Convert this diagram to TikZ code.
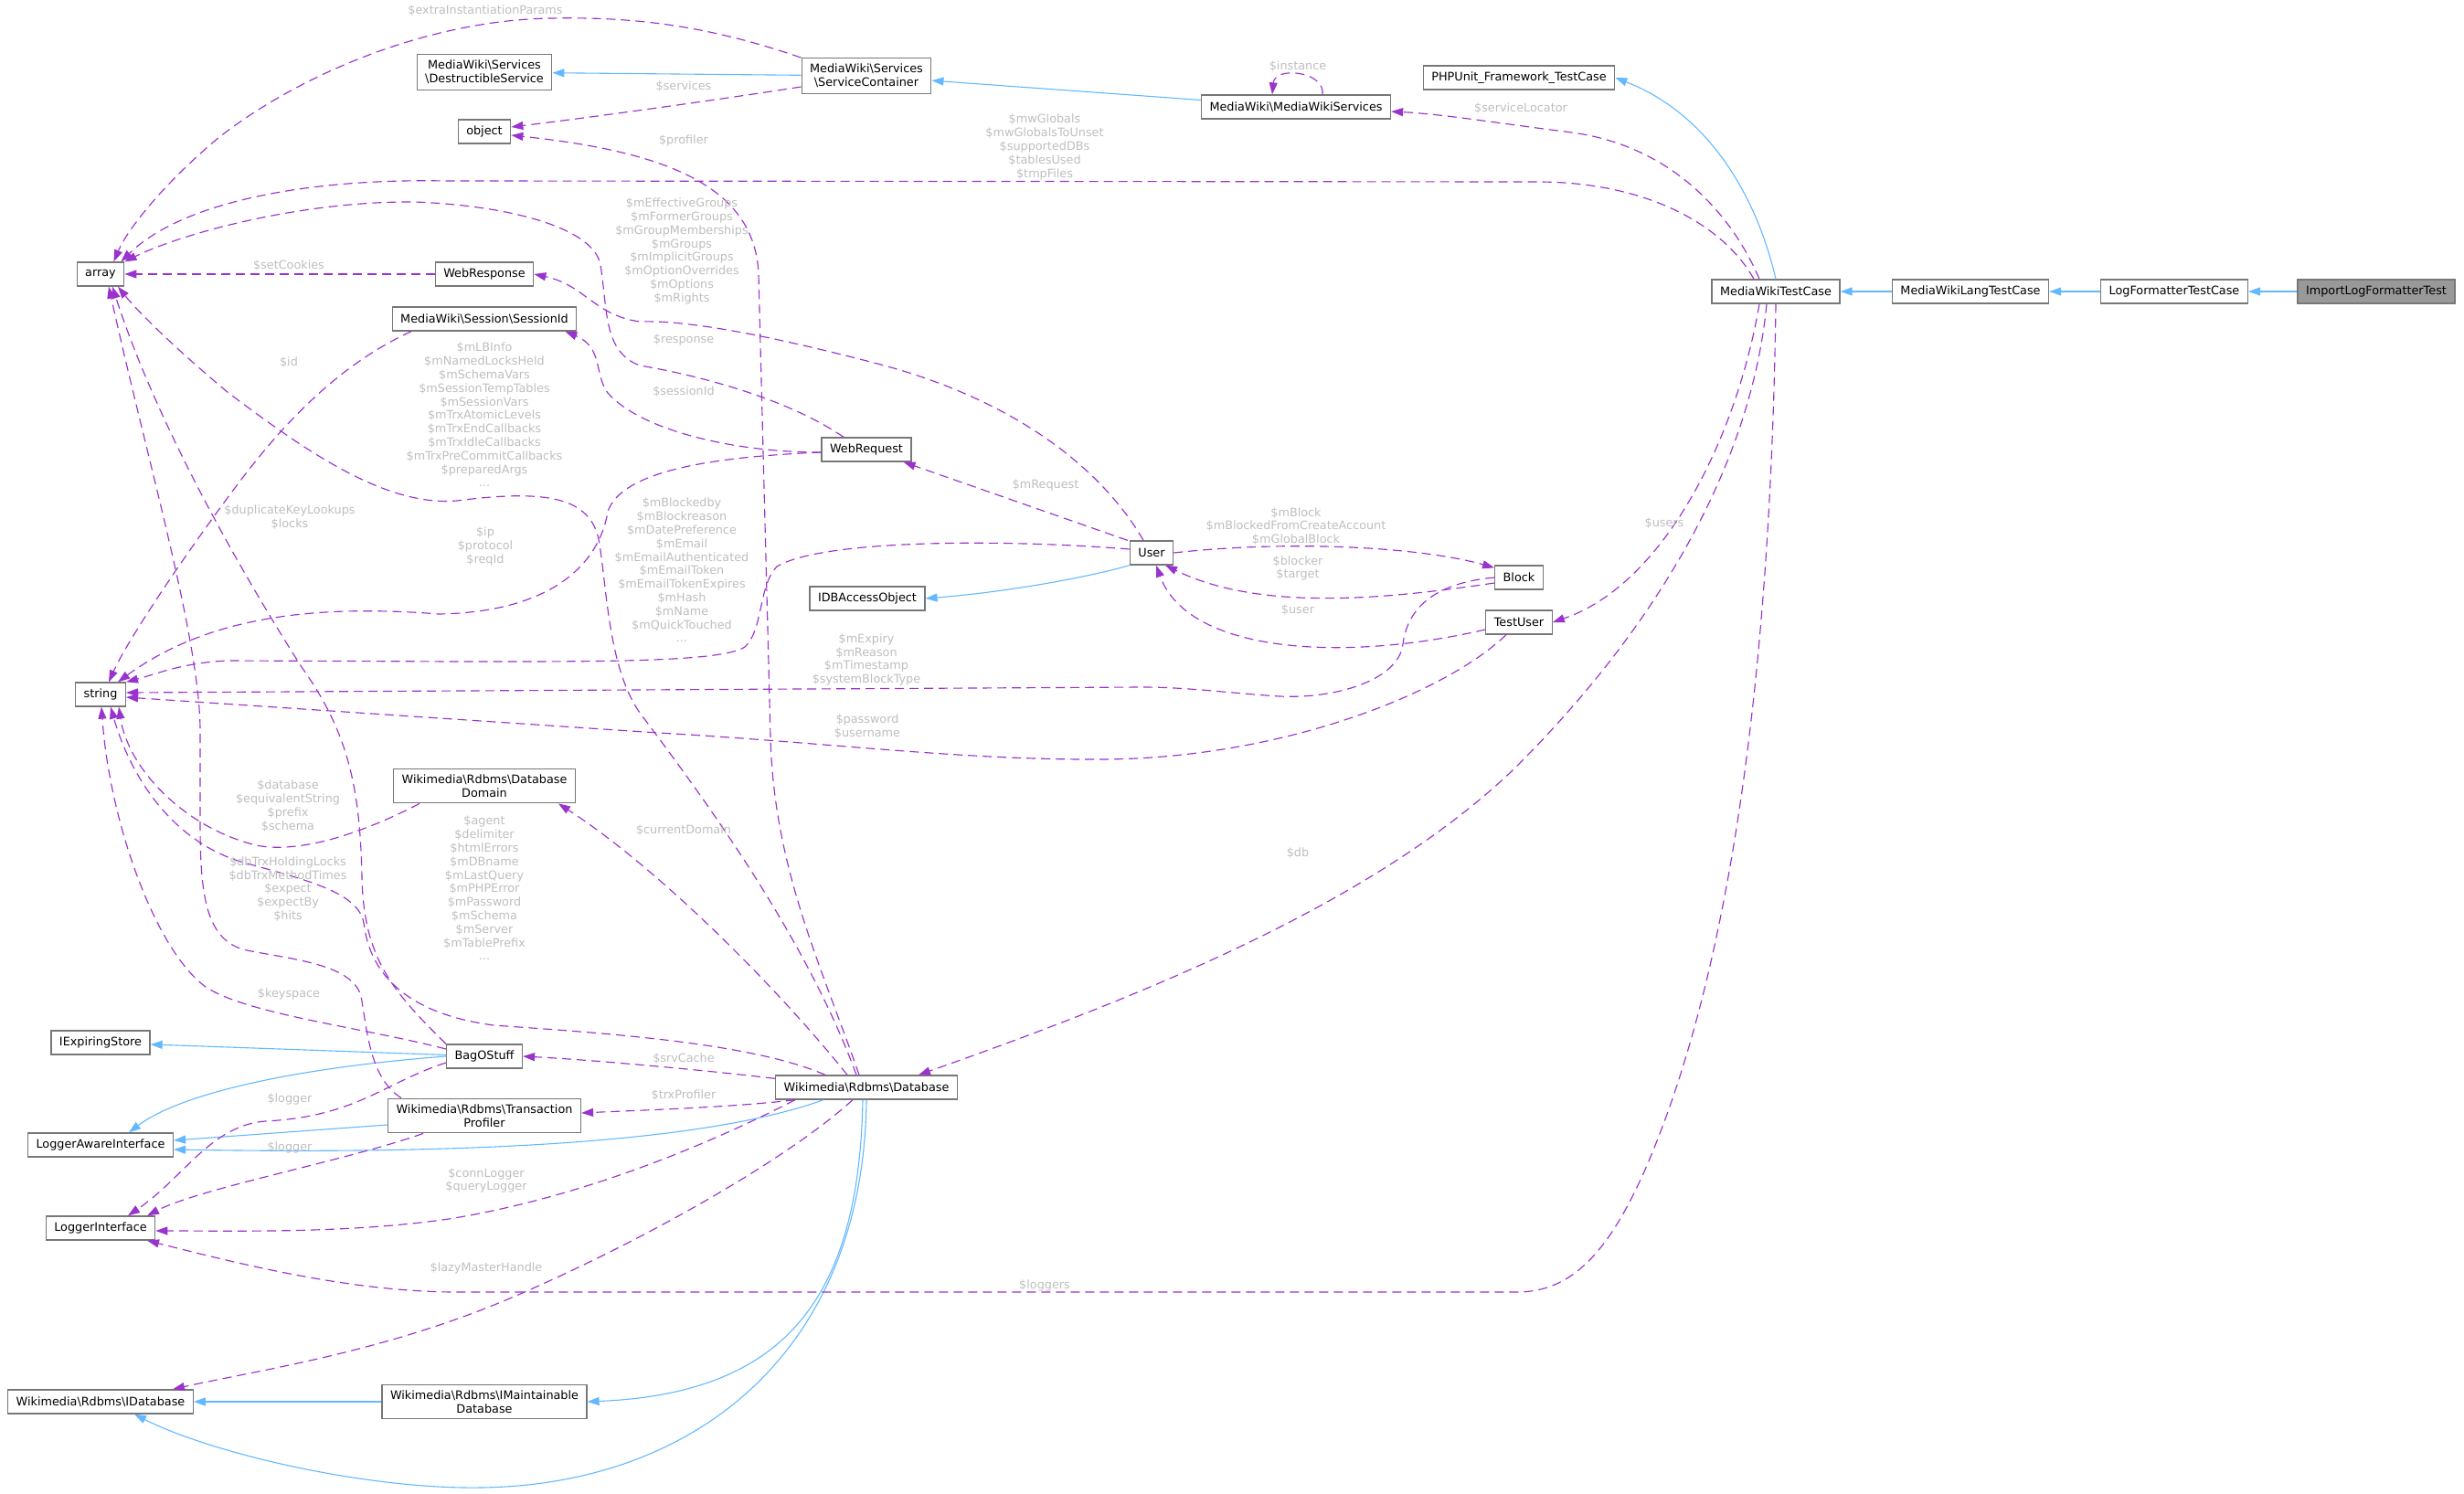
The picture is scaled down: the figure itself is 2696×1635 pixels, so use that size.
\documentclass[tikz,border=0pt]{standalone}
\usepackage{fontspec}
\setmainfont{DejaVu Sans}
\usetikzlibrary{arrows.meta}
\definecolor{clsborder}{HTML}{777777}
\definecolor{focusfill}{HTML}{999999}
\definecolor{inhblue}{HTML}{63B8FF}
\definecolor{usepurple}{HTML}{9A32CD}
\definecolor{lblgrey}{HTML}{BEBEBE}
\newcommand{\bsl}{\textbackslash}
\newcommand{\clsfont}{\fontsize{12.8pt}{14.6pt}\selectfont}
\newcommand{\lblfont}{\fontsize{12.8pt}{14.8pt}\selectfont}
\tikzset{
  cls/.style={draw=clsborder, fill=white, line width=1.3pt, font=\clsfont, align=center, inner xsep=9pt, inner ysep=6.5pt, minimum height=26pt},
  focus/.style={cls, fill=focusfill},
  inherit/.style={-{Triangle[length=13pt,width=9pt]}, draw=inhblue, line width=1.1pt},
  uses/.style={-{Triangle[length=13pt,width=9pt]}, draw=usepurple, line width=1.15pt, dash pattern=on 10pt off 6pt},
  lbl/.style={font=\lblfont, text=lblgrey, align=center, inner sep=0pt},
}

\begin{document}
\begin{tikzpicture}[x=1pt, y=-1pt]
  \useasboundingbox (0,0) rectangle (2696,1635);

  % Classes
  \node[focus] (ilft) at (2600,319) {ImportLogFormatterTest};
  \node[cls] (lftc) at (2379,319) {LogFormatterTestCase};
  \node[cls] (mwltc) at (2156,319) {MediaWikiLangTestCase};
  \node[cls] (mwtc) at (1943,319) {MediaWikiTestCase};
  \node[cls] (phpunit) at (1662,85) {PHPUnit\_Framework\_TestCase};
  \node[cls] (mws) at (1418,117) {MediaWiki\bsl MediaWikiServices};
  \node[cls] (sc) at (948,83) {MediaWiki\bsl Services\\\bsl ServiceContainer};
  \node[cls] (ds) at (530,79) {MediaWiki\bsl Services\\\bsl DestructibleService};
  \node[cls] (object) at (530,144) {object};
  \node[cls] (array) at (110,300) {array};
  \node[cls] (webresp) at (530,300) {WebResponse};
  \node[cls] (sessid) at (530,349) {MediaWiki\bsl Session\bsl SessionId};
  \node[cls] (webreq) at (948,492) {WebRequest};
  \node[cls] (user) at (1260,605) {User};
  \node[cls] (idbao) at (949,655) {IDBAccessObject};
  \node[cls] (block) at (1662,632) {Block};
  \node[cls] (testuser) at (1662,681) {TestUser};
  \node[cls] (string) at (110,760) {string};
  \node[cls] (dbdomain) at (530,860) {Wikimedia\bsl Rdbms\bsl Database\\Domain};
  \node[cls] (iexp) at (110,1141) {IExpiringStore};
  \node[cls] (bag) at (530,1156) {BagOStuff};
  \node[cls] (trxprof) at (530,1221) {Wikimedia\bsl Rdbms\bsl Transaction\\Profiler};
  \node[cls] (lai) at (110,1253) {LoggerAwareInterface};
  \node[cls] (database) at (948,1190) {Wikimedia\bsl Rdbms\bsl Database};
  \node[cls] (li) at (110,1344) {LoggerInterface};
  \node[cls] (idb) at (110,1534) {Wikimedia\bsl Rdbms\bsl IDatabase};
  \node[cls] (imaint) at (530,1534) {Wikimedia\bsl Rdbms\bsl IMaintainable\\Database};

  % Inheritance
  \draw[inherit] (ilft) -- (lftc);
  \draw[inherit] (lftc) -- (mwltc);
  \draw[inherit] (mwltc) -- (mwtc);
  \draw[inherit] (mwtc.north) .. controls (1922,215) and (1870,125) .. (phpunit.east);
  \draw[inherit] (sc) -- (ds);
  \draw[inherit] (mws) -- (sc);
  \draw[inherit] (user.south west) .. controls (1190,632) and (1100,648) .. (idbao.east);
  \draw[inherit] (bag) -- (iexp);
  \draw[inherit] (bag.west) .. controls (330,1168) and (200,1195) .. ([xshift=31pt]lai.north);
  \draw[inherit] ([yshift=-10pt]trxprof.west) -- ([yshift=5pt]lai.east);
  \draw[inherit] ([xshift=-47pt]database.south) .. controls (800,1240) and (600,1265) .. ([yshift=-5pt]lai.east);
  \draw[inherit] ([xshift=-4pt]database.south) .. controls (940,1420) and (860,1525) .. (imaint.east);
  \draw[inherit] (database.south) .. controls (945,1480) and (760,1625) .. (526,1628)
    .. controls (400,1630) and (230,1590) .. ([xshift=37pt]idb.south);
  \draw[inherit] (imaint) -- (idb);

  % Members
  \draw[uses] (sc.north west) .. controls (780,30) and (700,18) .. (603,20)
    .. controls (470,22) and (330,80) .. (240,150)
    .. controls (180,200) and (140,250) .. ([xshift=-12pt]array.north east);
  \draw[uses] ([yshift=-12pt]sc.west) .. controls (780,110) and (650,128) .. ([yshift=5pt]object.east);
  \draw[uses] ([xshift=29pt]mws.north) .. controls (1450,78) and (1395,72) .. ([xshift=-26pt]mws.north);
  \draw[uses] ([xshift=-18pt]mwtc.north) .. controls (1895,235) and (1830,160) .. (1720,145)
    .. controls (1640,135) and (1580,125) .. ([yshift=-5pt]mws.east);
  \draw[uses] ([xshift=-24pt]mwtc.north) .. controls (1885,245) and (1800,199) .. (1682,199) -- (488,198)
    .. controls (340,195) and (200,220) .. ([xshift=-4pt]array.north east);
  \draw[uses] ([xshift=-8pt]database.north) .. controls (900,1060) and (846,950) .. (843,805) -- (830,300)
    .. controls (826,200) and (720,165) .. ([yshift=-4pt]object.east);
  \draw[uses] ([xshift=-25pt]webreq.north) .. controls (860,435) and (760,410) .. (700,400)
    .. controls (660,385) and (665,340) .. (657,290)
    .. controls (650,250) and (560,225) .. (453,221)
    .. controls (330,220) and (200,255) .. (array.north east);
  \draw[uses] ([xshift=-9pt]user.north) .. controls (1210,520) and (1120,440) .. (960,398)
    .. controls (860,372) and (760,350) .. (700,352)
    .. controls (650,345) and (640,312) .. (webresp.east);
  \draw[uses] (webresp) -- (array);
  \draw[uses] ([yshift=-3pt]webreq.west) .. controls (800,495) and (700,470) .. (665,430)
    .. controls (650,410) and (660,380) .. ([xshift=-13pt]sessid.south east);
  \draw[uses] ([yshift=-3pt]webreq.west) .. controls (780,500) and (680,515) .. (665,560)
    .. controls (655,620) and (600,670) .. (480,672)
    .. controls (330,660) and (220,680) .. ([xshift=-9pt]string.north east);
  \draw[uses] ([xshift=-80pt]sessid.south) .. controls (380,395) and (320,450) .. (260,530)
    .. controls (200,610) and (140,700) .. ([xshift=9pt]string.north);
  \draw[uses] ([xshift=-11pt]database.north) .. controls (880,1020) and (760,860) .. (700,780)
    .. controls (665,730) and (664,640) .. (655,590)
    .. controls (645,545) and (600,535) .. (500,548)
    .. controls (420,555) and (330,490) .. (250,430)
    .. controls (190,380) and (150,340) .. ([xshift=19pt]array.south);
  \draw[uses] ([yshift=4pt]user.west) .. controls (1100,590) and (900,590) .. (850,620)
    .. controls (830,640) and (835,690) .. (815,708)
    .. controls (790,725) and (650,724) .. (500,724) -- (250,723)
    .. controls (200,725) and (170,738) .. (string.north east);
  \draw[uses] (block.west) .. controls (1570,638) and (1540,665) .. (1535,705)
    .. controls (1530,745) and (1460,765) .. (1400,762)
    .. controls (1350,759) and (1300,752) .. (1250,752) -- ([yshift=2pt]string.east);
  \draw[uses] ([yshift=-6pt]block.west) .. controls (1520,655) and (1380,670) .. ([xshift=15pt]user.south);
  \draw[uses] ([yshift=-8pt]testuser.west) .. controls (1470,725) and (1300,715) .. ([xshift=5pt]user.south);
  \draw[uses] (user.east) .. controls (1420,590) and (1560,600) .. ([yshift=-3pt]block.north west);
  \draw[uses] ([xshift=-2pt]user.north west) -- ([xshift=-9pt]webreq.south east);
  \draw[uses] ([xshift=-14pt]testuser.south) .. controls (1580,760) and (1400,830) .. (1206,831)
    .. controls (1050,832) and (900,812) .. (720,802) -- ([yshift=-3pt]string.east);
  \draw[uses] ([xshift=-18pt]mwtc.south) .. controls (1900,480) and (1820,640) .. (testuser.east);
  \draw[uses] ([xshift=-10pt]mwtc.south) .. controls (1915,520) and (1800,700) .. (1654,844)
    .. controls (1500,990) and (1250,1090) .. ([xshift=57pt]database.north);
  \draw[uses] (mwtc.south) .. controls (1938,700) and (1900,1050) .. (1800,1280)
    .. controls (1760,1370) and (1720,1414) .. (1660,1414) -- (500,1414)
    .. controls (380,1414) and (250,1380) .. ([xshift=51pt]li.south);
  \draw[uses] ([xshift=-21pt]database.north) .. controls (850,1080) and (720,950) .. ([xshift=81pt]dbdomain.south);
  \draw[uses] ([xshift=-71pt]dbdomain.south) .. controls (400,910) and (330,935) .. (280,925)
    .. controls (200,905) and (140,840) .. ([xshift=20pt]string.south);
  \draw[uses] ([xshift=-45pt]database.north) .. controls (820,1140) and (650,1130) .. (540,1122)
    .. controls (450,1110) and (405,1070) .. (398,1010)
    .. controls (392,975) and (330,962) .. (260,942)
    .. controls (180,915) and (140,840) .. ([xshift=11pt]string.south);
  \draw[uses] ([yshift=8pt]bag.west) .. controls (400,1125) and (270,1110) .. (225,1080)
    .. controls (170,1040) and (120,900) .. ([xshift=1pt]string.south);
  \draw[uses] (bag.north west) .. controls (430,1085) and (398,1050) .. (396,960)
    .. controls (394,860) and (380,800) .. (330,730)
    .. controls (260,620) and (170,460) .. ([xshift=13pt]array.south);
  \draw[uses] ([xshift=-91pt]trxprof.north) .. controls (405,1180) and (402,1130) .. (395,1090)
    .. controls (385,1055) and (320,1050) .. (270,1040)
    .. controls (225,1030) and (219,980) .. (219,900) -- (219,800)
    .. controls (219,700) and (160,500) .. ([xshift=9pt]array.south);
  \draw[uses] ([yshift=-4pt]database.north west) .. controls (780,1172) and (650,1160) .. (bag.east);
  \draw[uses] ([xshift=-78pt]database.south) .. controls (800,1212) and (700,1215) .. ([yshift=3pt]trxprof.east);
  \draw[uses] ([yshift=-7pt]bag.west) .. controls (420,1185) and (390,1222) .. (290,1227)
    .. controls (230,1232) and (200,1290) .. ([xshift=30pt]li.north);
  \draw[uses] ([xshift=-67pt]trxprof.south) .. controls (380,1270) and (220,1300) .. ([xshift=51pt]li.north);
  \draw[uses] ([xshift=-78pt]database.south) .. controls (780,1250) and (640,1310) .. (491,1334)
    .. controls (380,1350) and (260,1347) .. ([yshift=-3pt]li.east);
  \draw[uses] ([xshift=-15pt]database.south) .. controls (860,1270) and (700,1360) .. (560,1420)
    .. controls (420,1480) and (280,1500) .. ([xshift=79pt]idb.north);

  % Member names
  \node[lbl] (l-extra) at (531,12) {\$extraInstantiationParams};
  \node[lbl] (l-services) at (748,95) {\$services};
  \node[lbl] (l-profiler) at (748,154) {\$profiler};
  \node[lbl] (l-instance) at (1420,73) {\$instance};
  \node[lbl] (l-servloc) at (1664,119) {\$serviceLocator};
  \node[lbl] (l-globals) at (1143,161) {\$mwGlobals\\\$mwGlobalsToUnset\\\$supportedDBs\\\$tablesUsed\\\$tmpFiles};
  \node[lbl] (l-groups) at (746,275) {\$mEffectiveGroups\\\$mFormerGroups\\\$mGroupMemberships\\\$mGroups\\\$mImplicitGroups\\\$mOptionOverrides\\\$mOptions\\\$mRights};
  \node[lbl] (l-cookies) at (316,291) {\$setCookies};
  \node[lbl] (l-response) at (748,372) {\$response};
  \node[lbl] (l-sessid) at (748,429) {\$sessionId};
  \node[lbl] (l-id) at (316,397) {\$id};
  \node[lbl] (l-lbinfo) at (530,454) {\$mLBInfo\\\$mNamedLocksHeld\\\$mSchemaVars\\\$mSessionTempTables\\\$mSessionVars\\\$mTrxAtomicLevels\\\$mTrxEndCallbacks\\\$mTrxIdleCallbacks\\\$mTrxPreCommitCallbacks\\\$preparedArgs\\...};
  \node[lbl] (l-request) at (1144,531) {\$mRequest};
  \node[lbl] (l-dupkey) at (317,566) {\$duplicateKeyLookups\\\$locks};
  \node[lbl] (l-ip) at (531,598) {\$ip\\\$protocol\\\$reqId};
  \node[lbl] (l-blocked) at (746,624) {\$mBlockedby\\\$mBlockreason\\\$mDatePreference\\\$mEmail\\\$mEmailAuthenticated\\\$mEmailToken\\\$mEmailTokenExpires\\\$mHash\\\$mName\\\$mQuickTouched\\...};
  \node[lbl] (l-mblock) at (1418,576) {\$mBlock\\\$mBlockedFromCreateAccount\\\$mGlobalBlock};
  \node[lbl] (l-blocker) at (1420,622) {\$blocker\\\$target};
  \node[lbl] (l-user) at (1420,668) {\$user};
  \node[lbl] (l-users) at (1821,573) {\$users};
  \node[lbl] (l-expiry) at (948,722) {\$mExpiry\\\$mReason\\\$mTimestamp\\\$systemBlockType};
  \node[lbl] (l-password) at (949,795) {\$password\\\$username};
  \node[lbl] (l-database) at (315,882) {\$database\\\$equivalentString\\\$prefix\\\$schema};
  \node[lbl] (l-domain) at (748,909) {\$currentDomain};
  \node[lbl] (l-agent) at (530,972) {\$agent\\\$delimiter\\\$htmlErrors\\\$mDBname\\\$mLastQuery\\\$mPHPError\\\$mPassword\\\$mSchema\\\$mServer\\\$mTablePrefix\\...};
  \node[lbl] (l-trx) at (315,973) {\$dbTrxHoldingLocks\\\$dbTrxMethodTimes\\\$expect\\\$expectBy\\\$hits};
  \node[lbl] (l-db) at (1420,934) {\$db};
  \node[lbl] (l-keyspace) at (316,1088) {\$keyspace};
  \node[lbl] (l-srvcache) at (748,1159) {\$srvCache};
  \node[lbl] (l-trxprof) at (748,1199) {\$trxProfiler};
  \node[lbl] (l-logger1) at (317,1203) {\$logger};
  \node[lbl] (l-logger2) at (317,1256) {\$logger};
  \node[lbl] (l-conn) at (532,1292) {\$connLogger\\\$queryLogger};
  \node[lbl] (l-lazy) at (532,1388) {\$lazyMasterHandle};
  \node[lbl] (l-loggers) at (1143,1407) {\$loggers};
\end{tikzpicture}
\end{document}
